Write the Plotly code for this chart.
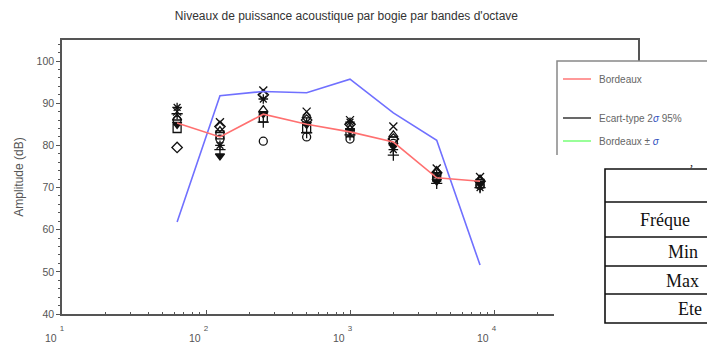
import math
import plotly.graph_objects as go

# ---------------- data ----------------
freqs = [63, 125, 250, 500, 1000, 2000, 4000, 8000]

bordeaux = [85.3, 82.0, 87.4, 85.0, 83.2, 80.8, 72.3, 71.5]
reference_curve = [61.8, 91.8, 92.8, 92.5, 95.7, 87.7, 81.2, 51.6]

meas_1 = [79.5, 84.5, 92.0, 86.0, 85.0, 81.5, 73.5, 71.5]
meas_2 = [86.0, 81.5, 81.0, 82.0, 81.5, 80.5, 72.0, 70.5]
meas_3 = [88.0, 85.5, 93.0, 88.0, 86.0, 84.5, 74.5, 72.5]
meas_4 = [87.5, 79.0, 85.5, 83.0, 82.5, 77.7, 71.0, 70.0]
meas_5 = [85.0, 77.5, 87.5, 85.0, 83.5, 80.0, 71.5, 71.0]
meas_6 = [86.5, 83.5, 88.5, 87.0, 84.0, 82.5, 74.0, 72.0]
meas_7 = [84.0, 82.5, 86.5, 84.0, 83.0, 81.0, 72.5, 71.0]
meas_8 = [89.0, 80.0, 91.0, 85.5, 85.5, 79.0, 73.0, 70.0]

measurements = [meas_1, meas_2, meas_3, meas_4, meas_5, meas_6, meas_7, meas_8]
symbols = ["diamond-open", "circle-open", "x-thin-open", "cross-thin-open",
           "triangle-down", "triangle-up-open", "square-open", "asterisk-open"]

decades = [10, 100, 1000, 10000]
exponents = ["1", "2", "3", "4"]
y_ticks = [40, 50, 60, 70, 80, 90, 100]

sigma = "<span style='color:#3050c0'><i>σ</i></span>"
legend_labels = ["Bordeaux", "Ecart-type 2" + sigma + " 95%", "Bordeaux ± " + sigma]
legend_colors = ["#ff8080", "#444444", "#80ff80"]
table_labels = ["Fréque", "Min", "Max", "Ete"]

title = "Niveaux de puissance acoustique par bogie par bandes d'octave"

# ---------------- figure ----------------
W, H = 707, 347
L, R, T, B = 62, 69, 40, 33
PW, PH = W - L - R, H - T - B


def px(x):
    return (x - L) / PW


def py(y):
    return (H - B - y) / PH


fig = go.Figure()

for vals, sym in zip(measurements, symbols):
    fig.add_trace(go.Scatter(
        x=freqs, y=vals, mode="markers",
        marker=dict(symbol=sym, size=8, color="#111111",
                    line=dict(color="#111111", width=1.3)),
        showlegend=False))

fig.add_trace(go.Scatter(x=freqs, y=reference_curve, mode="lines",
                         line=dict(color="#7070ff", width=1.6), showlegend=False))
fig.add_trace(go.Scatter(x=freqs, y=bordeaux, mode="lines",
                         line=dict(color="#ff7070", width=1.6), showlegend=False))

font = "Liberation Sans, Arial, sans-serif"
axis_col = "#555555"

minor_x = [m * d for d in [10, 100, 1000, 10000] for m in range(2, 10)]

fig.update_xaxes(
    type="log", range=[1, 5], showgrid=False, zeroline=False,
    showline=True, linecolor=axis_col, linewidth=1.5, mirror=True,
    tickvals=decades, ticktext=exponents, ticks="inside", ticklen=4,
    tickcolor=axis_col, tickfont=dict(family=font, size=8, color="#555"),
    ticklabelstandoff=6,
    minor=dict(tickvals=minor_x, ticks="inside", ticklen=2, tickcolor=axis_col),
)
fig.update_yaxes(
    range=[40, 105], showgrid=False, zeroline=False,
    showline=True, linecolor=axis_col, linewidth=1.5, mirror=True,
    tickvals=y_ticks, ticks="outside", ticklen=4, tickcolor=axis_col,
    tickfont=dict(family=font, size=10.5, color="#555"),
    minor=dict(dtick=2, ticks="outside", ticklen=2, tickcolor=axis_col),
    title=dict(text="Amplitude (dB)", font=dict(family=font, size=12, color="#555"),
               standoff=10),
)

shapes = []
annotations = []

# "10" base of the decade labels
for d in decades:
    annotations.append(dict(x=math.log10(d), xref="x",
                            y=py(338), yref="paper", yanchor="middle",
                            text="10", showarrow=False, xshift=-11,
                            font=dict(family=font, size=10.5, color="#555")))

# legend box
shapes.append(dict(type="rect", xref="paper", yref="paper",
                   x0=px(557), x1=px(730), y0=py(61), y1=py(230),
                   line=dict(color="#888888", width=1.5), fillcolor="white",
                   layer="above"))
for lab, col, yy in zip(legend_labels, legend_colors, [79, 118, 141]):
    shapes.append(dict(type="line", xref="paper", yref="paper",
                       x0=px(563), x1=px(591), y0=py(yy), y1=py(yy),
                       line=dict(color=col, width=1.6), layer="above"))
    annotations.append(dict(x=px(597), y=py(yy), xref="paper", yref="paper",
                            xanchor="left", yanchor="middle", text=lab,
                            showarrow=False,
                            font=dict(family=font, size=10, color="#666")))

# overlaid document region with table
shapes.append(dict(type="rect", xref="paper", yref="paper",
                   x0=px(554), x1=px(740), y0=py(155), y1=py(360),
                   line=dict(width=0), fillcolor="white", layer="above"))
shapes.append(dict(type="rect", xref="paper", yref="paper",
                   x0=px(605), x1=px(740), y0=py(169), y1=py(323),
                   line=dict(color="#111111", width=1.6), fillcolor="rgba(0,0,0,0)",
                   layer="above"))
for yy in [202, 237, 266, 294]:
    shapes.append(dict(type="line", xref="paper", yref="paper",
                       x0=px(605), x1=px(740), y0=py(yy), y1=py(yy),
                       line=dict(color="#111111", width=1.6), layer="above"))
for lab, xx, yy in zip(table_labels, [638, 666, 664, 676], [220, 252, 281, 309]):
    annotations.append(dict(x=px(xx), y=py(yy), xref="paper", yref="paper",
                            xanchor="left", yanchor="middle", text=lab,
                            showarrow=False,
                            font=dict(family="Liberation Serif, Times New Roman, serif",
                                      size=18, color="#111")))
annotations.append(dict(x=px(695), y=py(162), xref="paper", yref="paper",
                        text=",", showarrow=False,
                        font=dict(family="Liberation Serif", size=12, color="#111")))

fig.update_layout(
    width=W, height=H, margin=dict(l=L, r=R, t=T, b=B),
    paper_bgcolor="white", plot_bgcolor="white",
    title=dict(text=title, x=0.49, xanchor="center", y=1 - 16 / H, yanchor="middle",
               font=dict(family=font, size=12, color="#333")),
    shapes=shapes, annotations=annotations, showlegend=False,
)

fig.write_html("out.html")
